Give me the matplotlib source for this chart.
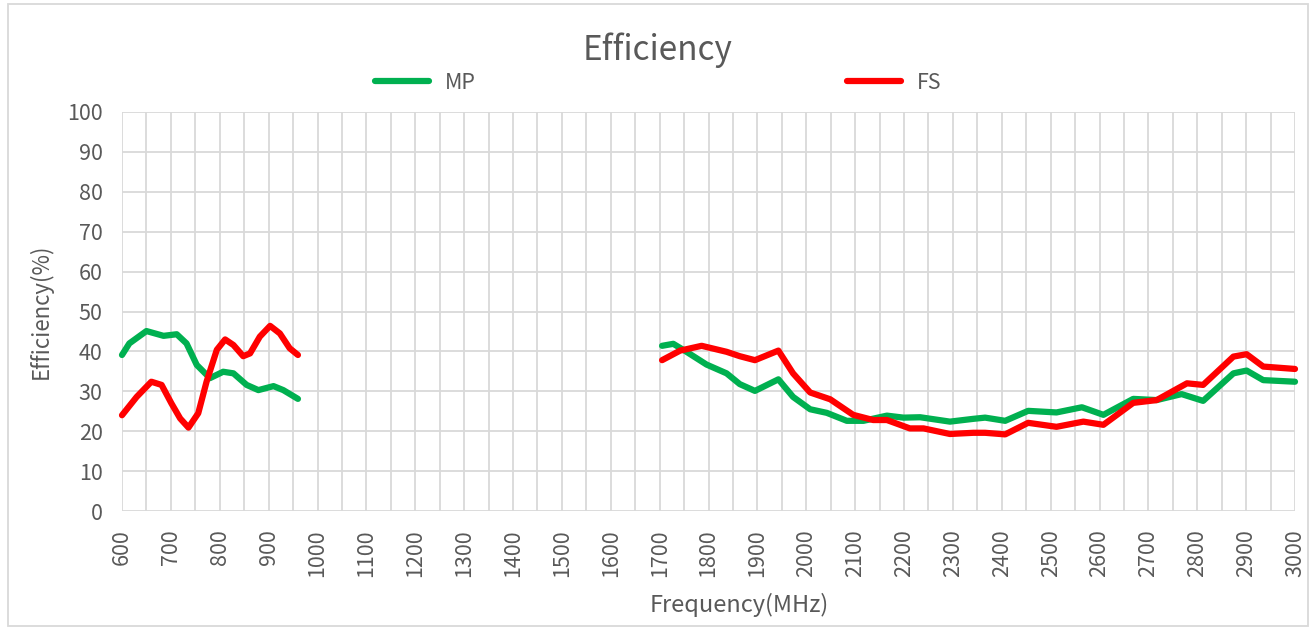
import numpy as np
import matplotlib.pyplot as plt
from matplotlib.patches import Rectangle
from matplotlib.lines import Line2D

plt.rcParams['font.family'] = ['Noto Sans CJK SC', 'DejaVu Sans']
plt.rcParams['font.weight'] = 'light'

# MP / FS efficiency, low band and high band (MHz, %)
mp_lo_f = [600, 615, 650, 685, 712, 732, 753, 780, 807, 828, 855, 879, 910, 930, 960]
mp_lo = [39.1, 42.0, 45.1, 43.9, 44.3, 42.0, 36.6, 33.3, 34.9, 34.5, 31.6, 30.3, 31.3, 30.3, 28.1]

fs_lo_f = [600, 630, 660, 681, 701, 719, 736, 756, 773, 794, 811, 828, 848, 862, 882, 903, 923, 943, 960]
fs_lo = [24.0, 28.6, 32.4, 31.6, 27.0, 23.2, 20.9, 24.5, 32.4, 40.4, 43.0, 41.6, 38.8, 39.5, 43.7, 46.4, 44.5, 40.8, 39.1]

mp_hi_f = [1705, 1728, 1755, 1796, 1837, 1864, 1895, 1943, 1973, 2008, 2042, 2083, 2117, 2165, 2199, 2233,
           2294, 2342, 2366, 2407, 2454, 2512, 2564, 2608, 2669, 2717, 2768, 2812, 2874, 2901, 2935, 3000]
mp_hi = [41.4, 41.9, 39.9, 36.7, 34.5, 31.8, 30.1, 33.0, 28.6, 25.5, 24.6, 22.6, 22.6, 23.9, 23.4, 23.5,
         22.4, 23.1, 23.4, 22.6, 25.1, 24.7, 26.0, 24.1, 28.1, 27.8, 29.3, 27.6, 34.5, 35.2, 32.8, 32.4]

fs_hi_f = [1705, 1742, 1786, 1837, 1864, 1895, 1943, 1973, 2008, 2049, 2096, 2137, 2165, 2212, 2240, 2294,
           2342, 2366, 2407, 2454, 2512, 2567, 2608, 2669, 2717, 2779, 2812, 2874, 2901, 2935, 3000]
fs_hi = [37.8, 40.2, 41.4, 39.9, 38.8, 37.8, 40.2, 34.5, 29.7, 28.0, 24.1, 22.8, 22.8, 20.7, 20.7, 19.3,
         19.6, 19.6, 19.2, 22.1, 21.1, 22.4, 21.6, 27.1, 27.8, 32.0, 31.6, 38.7, 39.3, 36.2, 35.6]

green = '#00B050'
red = '#FF0000'
txt = '#595959'
grid = '#D9D9D9'

fig = plt.figure(figsize=(13.12, 6.27), dpi=100)
ax = fig.add_axes([122 / 1312, 1 - 511 / 627, (1295 - 122) / 1312, (511 - 112) / 627])

kw = dict(lw=4.5, solid_capstyle='round', solid_joinstyle='round', clip_on=False)
ax.plot(mp_lo_f, mp_lo, color=green, **kw)
ax.plot(mp_hi_f, mp_hi, color=green, **kw)
ax.plot(fs_lo_f, fs_lo, color=red, **kw)
ax.plot(fs_hi_f, fs_hi, color=red, **kw)

ax.set_xlim(600, 3000)
ax.set_ylim(0, 100)
ax.set_xticks(np.arange(600, 3001, 100))
ax.set_xticks(np.arange(650, 3000, 100), minor=True)
ax.set_yticks(np.arange(0, 101, 10))
ax.tick_params(axis='x', which='major', labelrotation=90, length=0, labelsize=15.5, colors=txt, pad=13)
ax.tick_params(axis='x', which='minor', length=0)
ax.tick_params(axis='y', length=0, labelsize=15.5, colors=txt, pad=14)
ax.grid(True, which='both', color=grid, lw=1.3)
ax.set_axisbelow(True)
for s in ax.spines.values():
    s.set_visible(False)

fig.text(658 / 1312, 1 - 50 / 627, 'Efficiency', ha='center', va='center', fontsize=24, color=txt)
fig.text(739 / 1312, 1 - 605 / 627, 'Frequency(MHz)', ha='center', va='center', fontsize=17, color=txt)
fig.text(41 / 1312, 1 - 311 / 627, 'Efficiency(%)', ha='center', va='center', rotation=90,
         fontsize=16, color=txt)

# legend entries sit far apart, one legend each
for name, col, x0 in [('MP', green, 375), ('FS', red, 847)]:
    h = Line2D([], [], color=col, lw=4.5, solid_capstyle='round')
    lg = fig.legend([h], [name], loc='center left', bbox_to_anchor=(x0 / 1312, 1 - 83 / 627),
                    frameon=False, fontsize=15.5, handlelength=2.5, handletextpad=0.75,
                    borderpad=0, borderaxespad=0)
    lg.get_texts()[0].set_color(txt)

fig.patches.append(Rectangle((8 / 1312, 1 / 627), 1300 / 1312, 622 / 627, transform=fig.transFigure,
                             fill=False, edgecolor=grid, lw=1.3))

fig.savefig('out.png', dpi=100)
